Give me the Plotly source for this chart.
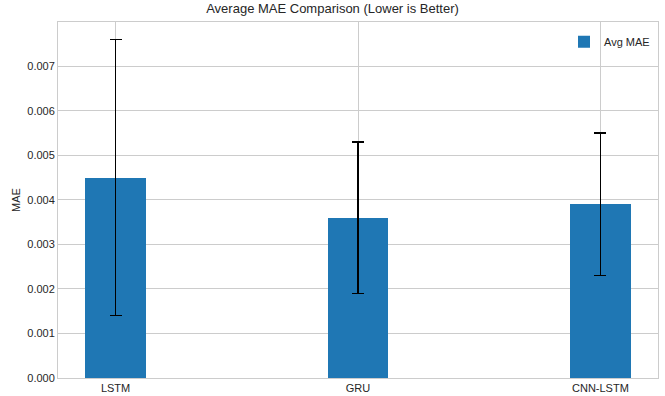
import plotly.graph_objects as go

models = ["LSTM", "GRU", "CNN-LSTM"]
avg_mae = [0.0045, 0.0036, 0.0039]
std_mae = [0.0031, 0.0017, 0.0016]
y_ticks = [0.000, 0.001, 0.002, 0.003, 0.004, 0.005, 0.006, 0.007]

x_pos = list(range(len(models)))

fig = go.Figure()
fig.add_trace(go.Bar(
    x=x_pos, y=avg_mae, width=0.25, name="Avg MAE",
    marker=dict(color="#1f77b4", line=dict(width=0)),
    error_y=dict(type="data", array=std_mae, visible=True,
                 color="black", thickness=1.6, width=6),
    showlegend=True,
))

font_family = "Liberation Sans, Arial, sans-serif"
fig.update_layout(
    width=665, height=396,
    margin=dict(l=58, r=7, t=22, b=18, pad=0),
    paper_bgcolor="white", plot_bgcolor="white",
    font=dict(family=font_family, size=11, color="#262626"),
    title=dict(text="Average MAE Comparison (Lower is Better)", x=0.5, xanchor="center",
               y=0.99, yanchor="top", font=dict(size=13, color="#262626")),
    showlegend=True,
    legend=dict(x=0.995, xanchor="right", y=0.985, yanchor="top",
                bgcolor="rgba(0,0,0,0)", font=dict(size=11)),
    bargap=0,
)
fig.update_xaxes(
    tickmode="array", tickvals=x_pos, ticktext=models,
    range=[-0.2375, 2.2375], automargin=False,
    showgrid=True, gridcolor="#cccccc", gridwidth=1,
    showline=True, linecolor="#cccccc", linewidth=1, mirror=True,
    ticks="", zeroline=False,
)
fig.update_yaxes(
    title=dict(text="MAE", standoff=4, font=dict(size=11)),
    tickmode="array", tickvals=y_ticks, ticktext=[f"{v:.3f}" for v in y_ticks],
    range=[0, 0.00799], automargin=False,
    showgrid=True, gridcolor="#cccccc", gridwidth=1,
    showline=True, linecolor="#cccccc", linewidth=1, mirror=True,
    ticks="", zeroline=False,
)

fig.write_html("out.html", config={"displayModeBar": False},
               post_script="document.body.style.margin='0';document.body.style.overflow='hidden';")
